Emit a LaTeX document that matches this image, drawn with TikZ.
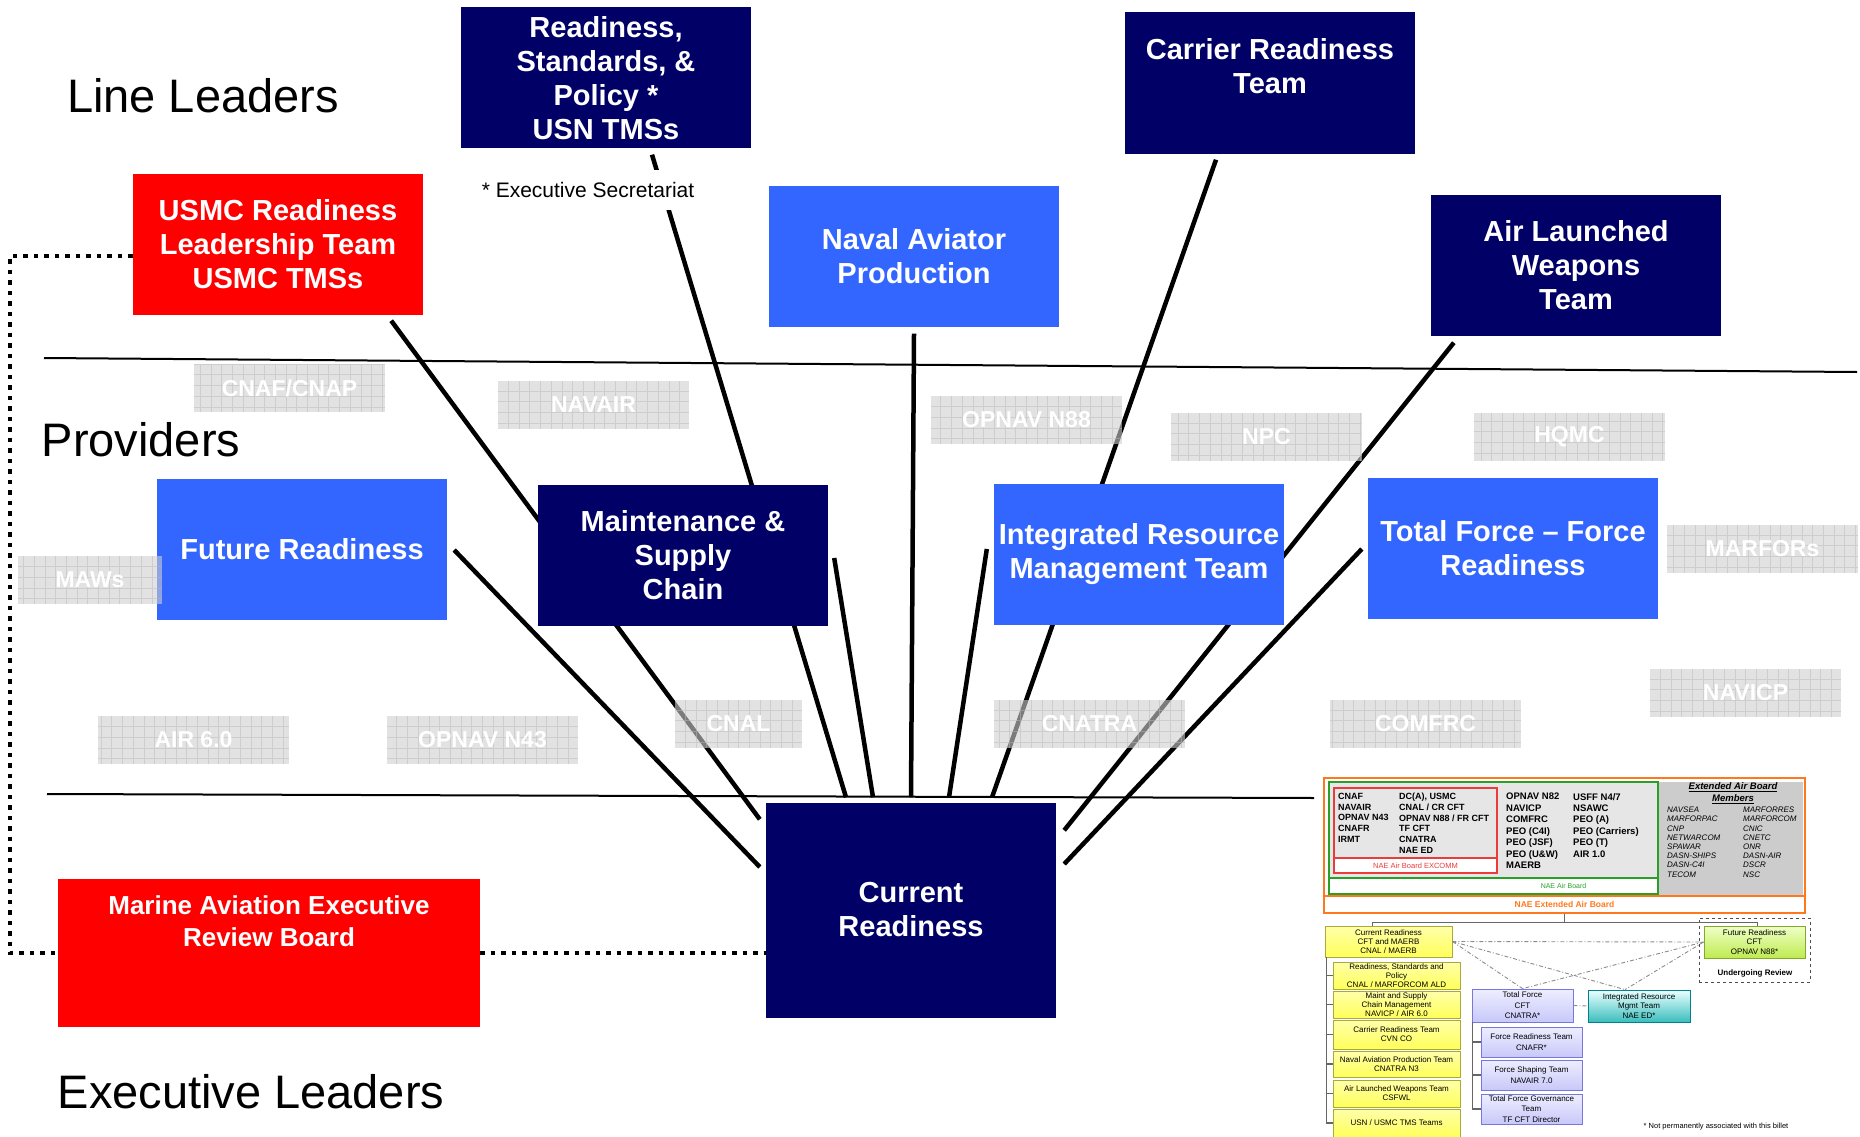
\documentclass[tikz,border=0pt]{standalone}
\usepackage{fontspec}
\setmainfont{Liberation Sans}
\usetikzlibrary{positioning, calc, backgrounds}

\definecolor{navyfill}{RGB}{0,0,102}
\definecolor{provblue}{RGB}{51,102,255}
\definecolor{tagfill}{RGB}{206,206,206}
\definecolor{taggrid}{RGB}{185,185,185}
\definecolor{boardgray}{RGB}{230,230,230}
\definecolor{membergray}{RGB}{204,204,204}
\definecolor{airorange}{RGB}{255,120,30}
\definecolor{airgreen}{RGB}{40,160,40}
\definecolor{airred}{RGB}{235,60,60}
\definecolor{ytop}{RGB}{255,255,170}
\definecolor{ybot}{RGB}{255,255,90}
\definecolor{yline}{RGB}{170,170,60}
\definecolor{ltop}{RGB}{238,238,255}
\definecolor{lbot}{RGB}{200,200,250}
\definecolor{lline}{RGB}{120,120,220}
\definecolor{ctop}{RGB}{235,255,255}
\definecolor{cbot}{RGB}{60,190,190}
\definecolor{cline}{RGB}{0,130,140}
\definecolor{gtop}{RGB}{240,255,200}
\definecolor{gbot}{RGB}{190,235,80}
\definecolor{gline}{RGB}{130,170,40}

\newcommand{\setfs}[2]{\fontsize{#1}{#2}\selectfont}

\begin{document}
\begin{tikzpicture}[
    x=1pt, y=-1pt,
    lead/.style={rectangle, fill=#1, text=white, minimum width=290pt, minimum height=141pt, inner sep=0pt, align=center, font=\bfseries\setfs{29}{34}},
    tag/.style={rectangle, fill=tagfill, fill opacity=0.6, text opacity=1, text=white, minimum width=191pt, minimum height=48pt, inner sep=0pt, font=\bfseries\setfs{23}{26},
        path picture={\draw[taggrid, draw opacity=0.5, line width=0.6pt, step=10.7pt] (path picture bounding box.south west) grid (path picture bounding box.north east);}},
    tier/.style={font=\setfs{47}{56}},
    link/.style={line width=4.5pt},
    dotlink/.style={line width=4.5pt, dash pattern=on 4.5pt off 6pt},
    rule/.style={line width=2pt},
    band/.style={rectangle, draw=#1, fill=white, text=#1, line width=1.2pt, inner sep=0pt, minimum height=15pt, font=\setfs{7.5}{9}},
    boardlist/.style={anchor=north west, inner sep=0pt, align=left, font=\bfseries\setfs{9}{10.7}},
    yorg/.style={rectangle, draw=yline, top color=ytop, bottom color=ybot, line width=0.8pt, inner sep=0pt, align=center, minimum width=127pt, font=\setfs{8}{9}},
    lorg/.style={rectangle, draw=lline, top color=ltop, bottom color=lbot, line width=0.8pt, inner sep=0pt, align=center, minimum width=101pt, font=\setfs{8}{10.5}},
    corg/.style={rectangle, draw=cline, top color=ctop, bottom color=cbot, line width=0.8pt, inner sep=0pt, align=center, minimum width=102pt, font=\setfs{8}{9.5}},
    gorg/.style={rectangle, draw=gline, top color=gtop, bottom color=gbot, line width=0.8pt, inner sep=0pt, align=center, minimum width=101pt, font=\setfs{8}{9.5}},
    orgline/.style={draw=black!60, line width=1.1pt},
    dashdot/.style={draw=black!45, line width=0.9pt, dash pattern=on 4pt off 2pt on 1pt off 2pt}
]
\useasboundingbox (0,0) rectangle (1860,1137);

% Tier titles
\node[tier] (lineldr) at (203,96) {Line Leaders};
\node[tier] (provtier) at (141,440) {Providers};
\node[tier] (execldr) at (251,1092) {Executive Leaders};

% Tier rules
\draw[rule] (44,358) -- (1857,372);
\draw[rule] (47,794) -- (1314,798);

% Line leaders
\node[lead=navyfill] (rsp) at (606,78) {Readiness,\\Standards, \&\\Policy *\\USN TMSs};
\node[lead=navyfill] (crt) at (1270,83) {Carrier Readiness\\Team\\~};
\node[lead=red] (usmc) at (278,244) {USMC Readiness\\Leadership Team\\USMC TMSs};
\node[lead=provblue] (nap) at (914,256) {Naval Aviator\\Production};
\node[lead=navyfill] (alw) at (1576,265) {Air Launched\\Weapons\\Team};
\node[fill=white, inner xsep=4pt, inner ysep=12pt, font=\setfs{21}{25}] (secnote) at (588,190) {* Executive Secretariat};

% Providers
\node[lead=provblue] (fr) at (302,549) {Future Readiness};
\node[lead=navyfill] (msc) at (683,555) {Maintenance \&\\Supply\\Chain};
\node[lead=provblue] (irm) at (1139,554) {Integrated Resource\\Management Team};
\node[lead=provblue] (tf) at (1513,548) {Total Force – Force\\Readiness};

% Executive leaders
\node[lead=navyfill, minimum height=215pt] (cr) at (911,910) {Current\\Readiness};
\node[lead=red, minimum width=422pt, minimum height=148pt, font=\bfseries\setfs{26}{32}] (maerb) at (269,953) {Marine Aviation Executive\\Review Board\\~\\~};

% Connectors to Current Readiness
\begin{scope}[on background layer]
\draw[link] ([xshift=-32pt,yshift=-6pt]usmc.south east) -- ([xshift=-6pt,yshift=-17pt]cr.north west);
\draw[link] ([xshift=46pt,yshift=-6pt]rsp.south) -- ([xshift=-65pt,yshift=5pt]cr.north);
\draw[link] ([xshift=7pt,yshift=-1pt]fr.east) -- ([xshift=-6pt,yshift=43pt]cr.west);
\draw[link] ([xshift=6pt,yshift=-3pt]msc.east) -- ([xshift=-38pt,yshift=5pt]cr.north);
\draw[link] ([yshift=-7pt]nap.south) -- ([yshift=5pt]cr.north);
\draw[link] ([xshift=-7pt,yshift=5pt]irm.west) -- ([xshift=38pt,yshift=5pt]cr.north);
\draw[link] ([xshift=-54pt,yshift=-6pt]crt.south) -- ([xshift=81pt,yshift=5pt]cr.north);
\draw[link] ([xshift=23pt,yshift=-7pt]alw.south west) -- ([xshift=8pt,yshift=-28pt]cr.north east);
\draw[link] ([xshift=-6pt,yshift=-1pt]tf.west) -- ([xshift=8pt,yshift=46pt]cr.east);
\end{scope}

% Dotted USMC link
\draw[dotlink] ([yshift=-12pt]usmc.west) -- ++(-123,0) |- (maerb.west);
\draw[dotlink] (maerb.east) -- (maerb.east -| cr.west);

% Organisation tags
\node[tag] (cnaf) at (289.5,388) {CNAF/CNAP};
\node[tag] (navair) at (593.5,404.5) {NAVAIR};
\node[tag] (n88) at (1026.5,420) {OPNAV N88};
\node[tag] (npc) at (1266.5,436.5) {NPC};
\node[tag] (hqmc) at (1569.5,436.5) {HQMC};
\node[tag, minimum width=144pt] (maws) at (90,580) {MAWs};
\node[tag] (marfors) at (1762.5,548.5) {MARFORs};
\node[tag] (navicp) at (1745.5,692.5) {NAVICP};
\node[tag] (air60) at (193.5,740) {AIR 6.0};
\node[tag] (n43) at (482.5,740) {OPNAV N43};
\node[tag, minimum width=127pt] (cnal) at (738.5,723.5) {CNAL};
\node[tag] (cnatra) at (1089.5,723.5) {CNATRA};
\node[tag] (comfrc) at (1425.5,723.5) {COMFRC};

% Inset: air board
\node[draw=airorange, line width=1.5pt, fill=white, minimum width=481pt, minimum height=135pt, inner sep=0pt] (eab) at (1564.5,845.5) {};
\fill[membergray] (1659,782) rectangle (1803,895);
\node[draw=airgreen, line width=1.2pt, fill=boardgray, minimum width=329pt, minimum height=112pt, inner sep=0pt] (airboard) at (1493.5,838) {};
\node[draw=airred, line width=1.2pt, fill=boardgray, minimum width=163pt, minimum height=85pt, inner sep=0pt] (excomm) at (1415.5,830.5) {};
\node[band=airorange, minimum width=481pt, minimum height=17pt, font=\bfseries\setfs{8.5}{9}] (eabtag) at (1564.5,904.5) {NAE Extended Air Board};
\node[band=airgreen, minimum width=329pt, minimum height=16pt, font=\setfs{7}{8}] (abtag) at (1493.5,886) {\hspace*{140pt}NAE Air Board};
\node[band=airred, minimum width=163pt] (excommtag) at (1415.5,865.5) {NAE Air Board EXCOMM};

\node[boardlist] (excol1) at (1338,793) {CNAF\\NAVAIR\\OPNAV N43\\CNAFR\\IRMT};
\node[boardlist] (excol2) at (1399,793) {DC(A), USMC\\CNAL / CR CFT\\OPNAV N88 / FR CFT\\TF CFT\\CNATRA\\NAE ED};
\node[boardlist, font=\bfseries\setfs{9.5}{11.5}] (abcol1) at (1506,793) {OPNAV N82\\NAVICP\\COMFRC\\PEO (C4I)\\PEO (JSF)\\PEO (U\&W)\\MAERB};
\node[boardlist, font=\bfseries\setfs{9.5}{11.4}] (abcol2) at (1573,793) {USFF N4/7\\NSAWC\\PEO (A)\\PEO (Carriers)\\PEO (T)\\AIR 1.0};

\node[font=\bfseries\itshape\setfs{9.5}{11}] (memtitle) at (1733,787) {\underline{Extended Air Board}};
\node[font=\bfseries\itshape\setfs{9.5}{11}] (memsub) at (1733,799.5) {\underline{Members}};
\node[boardlist, font=\itshape\setfs{8}{9.2}] (memcol1) at (1667,807) {NAVSEA\\MARFORPAC\\CNP\\NETWARCOM\\SPAWAR\\DASN-SHIPS\\DASN-C4I\\TECOM};
\node[boardlist, font=\itshape\setfs{8}{9.2}] (memcol2) at (1743,807) {MARFORRES\\MARFORCOM\\CNIC\\CNETC\\ONR\\DASN-AIR\\DSCR\\NSC};

% Inset: teams
\node[draw=black!70, dashed, line width=0.9pt, minimum width=111pt, minimum height=64pt, inner sep=0pt] (review) at (1754.5,950) {};
\node[font=\bfseries\setfs{8}{9}] (reviewnote) at (1755,973) {Undergoing Review};

\node[yorg, minimum height=31pt] (ixcr) at (1388.5,941.5) {Current Readiness\\CFT and MAERB\\CNAL / MAERB};
\node[yorg, minimum height=27pt] (ixrsp) at (1396.5,975.5) {Readiness, Standards and\\Policy\\CNAL / MARFORCOM ALD};
\node[yorg, minimum height=27pt] (ixmsc) at (1396.5,1004.5) {Maint and Supply\\Chain Management\\NAVICP / AIR 6.0};
\node[yorg, minimum height=29pt] (ixcrt) at (1396.5,1034.5) {Carrier Readiness Team\\CVN CO};
\node[yorg, minimum height=26pt] (ixnap) at (1396.5,1064) {Naval Aviation Production Team\\CNATRA N3};
\node[yorg, minimum height=27pt] (ixalw) at (1396.5,1093.5) {Air Launched Weapons Team\\CSFWL};
\node[yorg, minimum height=28pt] (ixtms) at (1396.5,1123) {USN / USMC TMS Teams};

\node[lorg, minimum height=33pt] (ixtf) at (1522.5,1005.5) {Total Force\\CFT\\CNATRA*};
\node[lorg, minimum height=30pt] (ixfrt) at (1531.5,1042) {Force Readiness Team\\CNAFR*};
\node[lorg, minimum height=30pt] (ixfst) at (1531.5,1075) {Force Shaping Team\\NAVAIR 7.0};
\node[lorg, minimum height=30pt] (ixtfg) at (1531.5,1109) {Total Force Governance\\Team\\TF CFT Director};

\node[corg, minimum height=32pt] (ixirm) at (1639,1006) {Integrated Resource\\Mgmt Team\\NAE ED*};
\node[gorg, minimum height=32pt] (ixfut) at (1754.5,942) {Future Readiness\\CFT\\OPNAV N88*};

\node[font=\setfs{7.5}{9}] (billetnote) at (1716,1127) {* Not permanently associated with this billet};

% Inset: tree lines
\draw[orgline] (eab.south) -- ++(0,9) coordinate (split);
\draw[orgline] ([xshift=-16pt]ixcr.north) |- (split) -| ([xshift=3pt]ixfut.north);
\foreach \kid in {ixrsp, ixmsc, ixcrt, ixnap, ixalw, ixtms}
    \draw[orgline] ([xshift=-62pt]ixcr.south) |- (\kid.west);
\foreach \kid in {ixfrt, ixfst, ixtfg}
    \draw[orgline] ([xshift=1pt]ixtf.south west) |- (\kid.west);

\draw[dashdot] (ixcr.east) -- (ixfut.west);
\draw[dashdot] (ixcr.east) -- (ixtf.north);
\draw[dashdot] (ixcr.east) -- ([xshift=-14pt]ixirm.north);
\draw[dashdot] (ixfut.west) -- (ixtf.north);
\draw[dashdot] (ixfut.west) -- ([xshift=-14pt]ixirm.north);
\draw[dashdot] (ixtf.east) -- (ixirm.west);

\end{tikzpicture}
\end{document}
